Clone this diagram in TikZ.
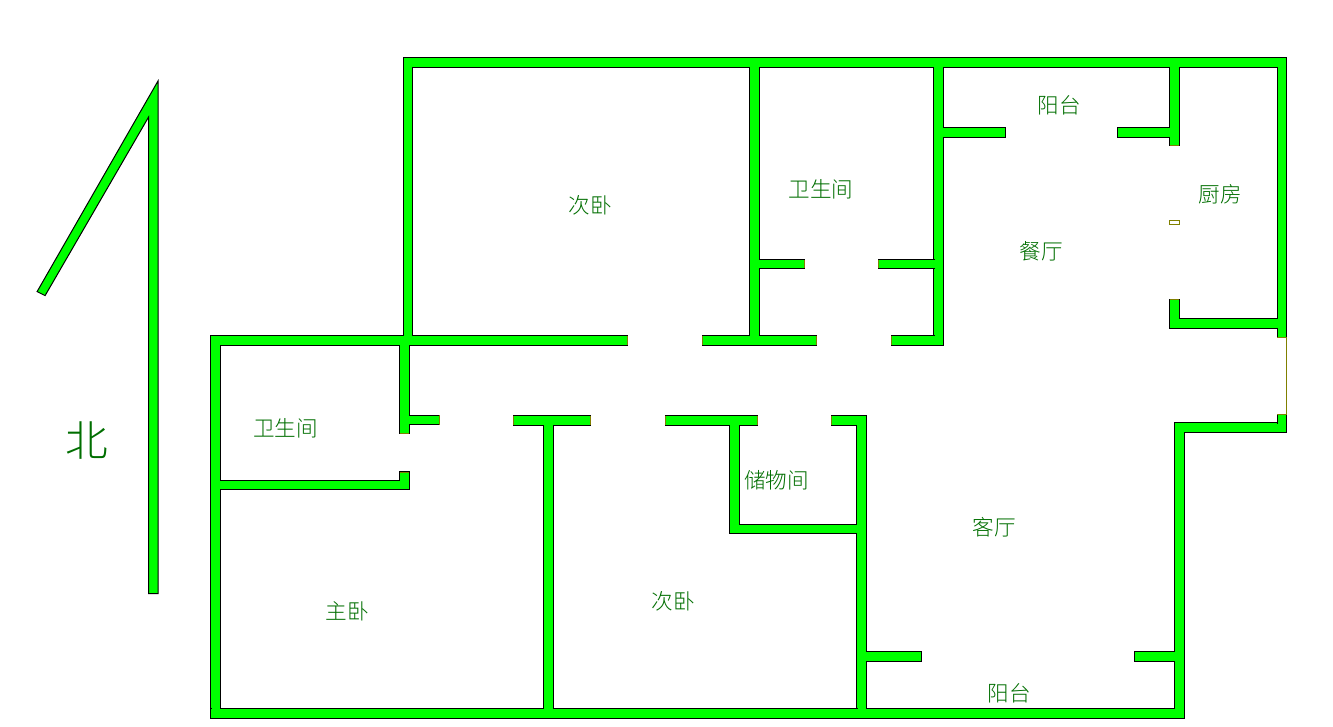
\documentclass[tikz,border=0pt]{standalone}
\usepackage{fontspec}
\setmainfont{Noto Sans CJK SC Light}
\definecolor{wallgreen}{RGB}{0,255,0}
\definecolor{textgreen}{RGB}{0,110,0}
\definecolor{doorolive}{RGB}{128,128,0}
\tikzset{
  wallline/.style={draw=black,fill=wallgreen,line width=0.75pt},
  wallfill/.style={fill=wallgreen},
  doorend/.style={draw=doorolive,line width=0.75pt},
  room/.style={text=textgreen,font=\fontsize{16.2pt}{19pt}\selectfont,inner sep=0pt}
}
% wall rectangles in pixels of the plan: left/top/right/bottom
\def\walllist{403/57.3/1287/67.3, 403/57.3/413/340, 1277/57.3/1287/337.3,
  749.3/62/759.3/340, 933.7/62/943.7/345.5, 1169.3/62/1179.3/146,
  1117/127.3/1174/137.3, 938/127.3/1005.7/137.3,
  754/259.3/804.3/268.3, 878.3/259.3/938/268.3,
  210.7/335.3/628/345.5, 702/335.3/816.3/345.5, 891.3/335.3/943.7/345.5,
  210.7/335.3/220.7/718.3, 399.3/340/409.3/434, 404/415/439.3/425,
  215/480/409.3/489.3, 399.3/471.7/409.3/489.3,
  513/415.3/591/425.5, 543.3/420/553.3/713, 665/415.3/758/425.5,
  729.3/420/739.3/534, 734/524/862/534, 831/415.3/866.7/425.3,
  856.7/415.3/866.7/713, 862/651.3/921.7/661.3, 1134.3/651.3/1179/661.3,
  1174.5/422.7/1184.3/718.3, 1174.5/422.7/1287/432.7, 1277/414/1287/432.7,
  1169.3/299.3/1179.3/328.3, 1169.3/318.3/1282/328.3,
  210.7/708.3/1184.3/718.3}
% wall ends at the door openings
\def\doorlist{627.7/335.6/627.7/345.2, 702.3/335.6/702.3/345.2, 816/335.6/816/345.2,
  891.6/335.6/891.6/345.2, 513.3/415.6/513.3/425.2, 590.7/415.6/590.7/425.2,
  665.3/415.6/665.3/425.2, 757.7/415.6/757.7/425.2, 831.3/415.6/831.3/425,
  804/259.6/804/268, 878.6/259.6/878.6/268, 439/415.3/439/424.7,
  399.6/433.7/409/433.7, 399.6/472/409/472, 1169.6/145.7/1179/145.7,
  1169.6/299.6/1179/299.6, 1277.3/337/1286.7/337, 1277.3/414.3/1286.7/414.3,
  1286.6/337/1286.6/414.3}
\begin{document}
\begin{tikzpicture}[x=0.75pt,y=-0.75pt]
\useasboundingbox (0,0) rectangle (1333,726);

\foreach \xa/\ya/\xb/\yb in \walllist
  \draw[wallline] ({\xa+0.25},{\ya+0.25}) rectangle ({\xb-0.25},{\yb-0.25});
\foreach \xa/\ya/\xb/\yb in \walllist
  \fill[wallfill] ({\xa+0.8},{\ya+0.8}) rectangle ({\xb-0.8},{\yb-0.8});
\foreach \xa/\ya/\xb/\yb in \doorlist
  \draw[doorend] (\xa,\ya) -- (\xb,\yb);

\draw[doorend] (1169.8,220.5) rectangle (1179.2,224.8);

% north mark
\draw[wallline] (158,81) -- (158,593.7) -- (148.6,593.7) -- (148.6,117) -- (45.1,295.6) -- (37.1,291.6) -- cycle;

\node (northLabel) at (87,440.5) [room,font=\fontsize{32pt}{36pt}\selectfont] {北};

\node (bedroomNorth) at (590.5,205.5) [room] {次卧};

\node (bathEast) at (821,189.5) [room] {卫生间};

\node (balconyNorth) at (1059,105.5) [room] {阳台};

\node (kitchen) at (1220.5,194.5) [room] {厨房};

\node (dining) at (1041,251.5) [room] {餐厅};

\node (bathWest) at (285.5,428.5) [room] {卫生间};

\node (storage) at (776.5,480.5) [room] {储物间};

\node (living) at (994.5,527.5) [room] {客厅};

\node (bedroomSouth) at (673.5,601.5) [room] {次卧};

\node (masterBed) at (347.5,611.5) [room] {主卧};

\node (balconySouth) at (1009.5,693.5) [room] {阳台};

\end{tikzpicture}
\end{document}
